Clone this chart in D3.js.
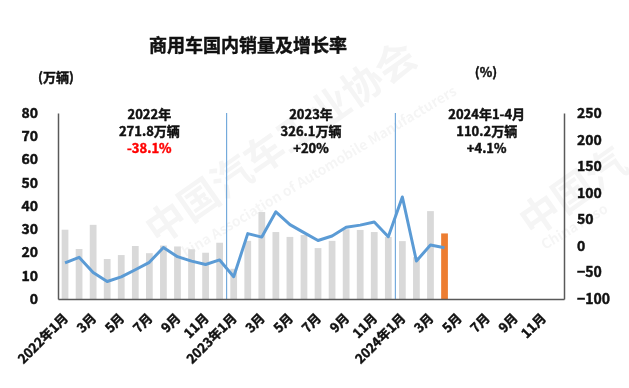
<!DOCTYPE html>
<html>
<head>
<meta charset="utf-8">
<script src="https://cdn.jsdelivr.net/npm/d3@7"></script>
<style>
  body { margin: 0; background: #fff; }
  text { font-family: "Noto Sans CJK SC", "Noto Sans", sans-serif; }
  .b { font-weight: bold; stroke: currentColor; stroke-width: 0.45px; }
</style>
</head>
<body>
<svg width="629" height="388"></svg>
<script>
// months on the x axis (2022.1 - 2024.12)
const months = [
  "2022-01","2022-02","2022-03","2022-04","2022-05","2022-06","2022-07","2022-08","2022-09","2022-10","2022-11","2022-12",
  "2023-01","2023-02","2023-03","2023-04","2023-05","2023-06","2023-07","2023-08","2023-09","2023-10","2023-11","2023-12",
  "2024-01","2024-02","2024-03","2024-04","2024-05","2024-06","2024-07","2024-08","2024-09","2024-10","2024-11","2024-12"
];
const tickLabels = [
  "2022年1月","","3月","","5月","","7月","","9月","","11月","",
  "2023年1月","","3月","","5月","","7月","","9月","","11月","",
  "2024年1月","","3月","","5月","","7月","","9月","","11月",""
];
// 国内销量 (万辆)
const sales = [
  29.8, 21.5, 31.9, 17.2, 18.9, 22.8, 19.7, 23.0, 22.6, 21.4, 19.9, 24.2,
  13.0, 25.0, 37.4, 28.8, 26.7, 27.5, 21.9, 25.0, 30.0, 29.7, 28.8, 26.7,
  24.9, 18.0, 37.8, 28.2
];
// 增长率 (%)
const growth = [
  -32, -21.5, -50, -67, -58.5, -45, -31, -3, -20.3, -28.7, -35, -26.5,
  -58, 23, 16.5, 64, 40, 25, 10, 18.6, 35, 39, 45, 17.3,
  92, -28.5, 1.7, -3.4
];
const leftTicks = [0, 10, 20, 30, 40, 50, 60, 70, 80];
const rightTicks = [-100, -50, 0, 50, 100, 150, 200, 250];
const yearNotes = [
  { at: ["2022-07"], lines: ["2022年", "271.8万辆", "-38.1%"], red: true },
  { at: ["2023-06", "2023-07"], lines: ["2023年", "326.1万辆", "+20%"], red: false },
  { at: ["2024-07"], lines: ["2024年1-4月", "110.2万辆", "+4.1%"], red: false }
];
const yearStarts = ["2023-01", "2024-01"];

var svg = d3.select("svg");
var pLeft = 58, pRight = 564, pTop = 113, pBottom = 299;

var x = d3.scaleBand().domain(months).range([pLeft, pRight])
    .paddingInner(0.52).paddingOuter(0.26);
var y = d3.scaleLinear().domain([0, 80]).range([pBottom, pTop]);
var y2 = d3.scaleLinear().domain([-100, 250]).range([pBottom, pTop]);

function mid(m) { return x(m) + x.bandwidth() / 2; }

// faint watermark
var wm = svg.append("g").attr("fill", "#000").attr("opacity", 0.04)
    .style("font-weight", "bold");
wm.append("text").attr("transform", "translate(158,246) rotate(-35)")
    .style("font-size", "40px").text("中国汽车工业协会");
wm.append("text").attr("transform", "translate(178,262) rotate(-31)")
    .style("font-size", "14px").text("China Association of Automobile Manufacturers");
wm.append("text").attr("transform", "translate(532,238) rotate(-35)")
    .style("font-size", "40px").text("中国汽");
wm.append("text").attr("transform", "translate(545,250) rotate(-31)")
    .style("font-size", "14px").text("China Asso");

// title and units
svg.append("text").attr("class", "b").attr("x", 248).attr("y", 52).attr("text-anchor", "middle")
    .style("font-size", "18px").attr("fill", "#111").style("color", "#111")
    .text("商用车国内销量及增长率");
svg.append("text").attr("class", "b").attr("x", 56).attr("y", 82).attr("text-anchor", "middle")
    .style("font-size", "13px").attr("fill", "#111").style("color", "#111")
    .text("(万辆)");
svg.append("text").attr("class", "b").attr("x", 486).attr("y", 77).attr("text-anchor", "middle")
    .style("font-size", "13px").attr("fill", "#111").style("color", "#111")
    .text("(%)");

// bars
svg.append("g").selectAll("rect")
    .data(sales)
    .enter().append("rect")
    .attr("x", function(d, i) { return x(months[i]); })
    .attr("y", function(d) { return y(d); })
    .attr("width", x.bandwidth())
    .attr("height", function(d) { return pBottom - y(d); })
    .attr("fill", function(d, i) { return i === sales.length - 1 ? "#ed7d31" : "#d9d9d9"; });

// year separators
svg.append("g").selectAll("line")
    .data(yearStarts)
    .enter().append("line")
    .attr("x1", function(d) { return x(d) - x.step() * x.paddingInner() / 2; })
    .attr("x2", function(d) { return x(d) - x.step() * x.paddingInner() / 2; })
    .attr("y1", pTop).attr("y2", pBottom)
    .attr("stroke", "#5b9bd5").attr("stroke-width", 1);

// growth line
var line = d3.line()
    .x(function(d, i) { return mid(months[i]); })
    .y(function(d) { return y2(d); });
svg.append("path").datum(growth)
    .attr("d", line)
    .attr("fill", "none")
    .attr("stroke", "#5b9bd5")
    .attr("stroke-width", 3)
    .attr("stroke-linejoin", "round");

// axes
var yAxisL = svg.append("g").attr("transform", "translate(" + pLeft + ",0)")
    .call(d3.axisLeft(y).tickValues(leftTicks).tickSize(0).tickPadding(20));
var yAxisR = svg.append("g").attr("transform", "translate(" + pRight + ",0)")
    .call(d3.axisRight(y2).tickValues(rightTicks).tickSize(0).tickPadding(13));
var xAxis = svg.append("g").attr("transform", "translate(0," + pBottom + ")")
    .call(d3.axisBottom(x).tickSize(0).tickFormat(function(d, i) { return tickLabels[i]; }));

[yAxisL, yAxisR, xAxis].forEach(function(a) {
    a.select(".domain").attr("stroke", "#595959").attr("stroke-width", 1.5);
    a.selectAll("text").attr("fill", "#111").attr("class", "b")
        .style("color", "#111")
        .style("font-family", "\"Noto Sans CJK SC\", sans-serif");
});
yAxisL.selectAll("text").style("font-size", "14px");
yAxisR.selectAll("text").style("font-size", "14px");
xAxis.selectAll(".tick text")
    .style("font-size", "13px")
    .attr("text-anchor", "end")
    .attr("dy", null)
    .attr("y", 0)
    .attr("transform", "translate(4,20) rotate(-45)");

// year notes
yearNotes.forEach(function(n) {
    var cx = d3.mean(n.at, mid);
    var g = svg.append("g").attr("text-anchor", "middle")
        .style("font-size", "13px");
    n.lines.forEach(function(t, k) {
        var c = (n.red && k === 2) ? "#ff0000" : "#111";
        g.append("text").attr("class", "b").attr("x", cx).attr("y", 119 + k * 17)
            .attr("fill", c).style("color", c)
            .text(t);
    });
});
</script>
</body>
</html>
